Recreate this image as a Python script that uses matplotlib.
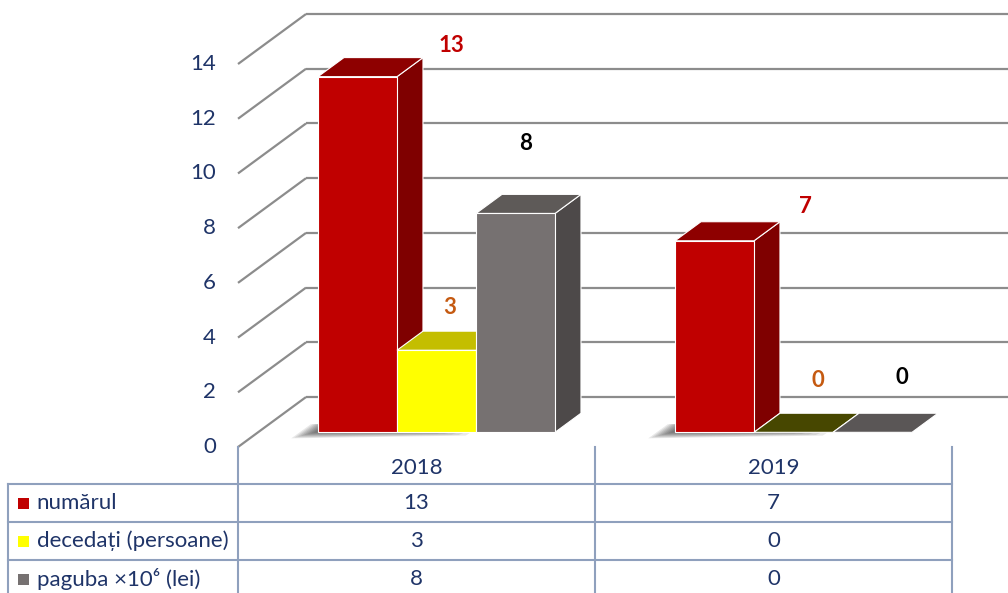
import matplotlib.pyplot as plt
import matplotlib.transforms as mtransforms
from matplotlib.patches import Polygon

# data
years = ['2018', '2019']
series = ['numărul', 'decedați (persoane)', 'paguba ×10⁶ (lei)']
numarul = [13, 7]
decedati = [3, 0]
paguba = [8, 0]
yticks = [0, 2, 4, 6, 8, 10, 12, 14]

values = [numarul, decedati, paguba]

# styles
fonts = ['Lato', 'DejaVu Sans']
navy = '#1F3468'
front_cols = ['#C00000', '#FFFF00', '#767171']
side_cols = ['#7F0000', '#A8A800', '#4D4949']
top_cols = ['#8E0000', '#C4BE00', '#5E5A58']
flat_cols = ['#8E0000', '#474700', '#5A5656']
label_cols = ['#C00000', '#C55A11', '#000000']
# label nudges (x, y) in data units from the top centre of each bar front
label_nudge = [[(0.263, 1.14), (0.255, 1.26)],
               [(0.038, 1.57), (0.067, 1.90)],
               [(0.028, 2.56), (0.081, 2.01)]]

DX, DY = 0.1905, 1.827   # full floor depth
f0, f1 = 0.294, 0.676    # bar depth slice
w = 0.2213
x_wall = -0.5
fs = 16

fig = plt.figure(figsize=(10.08, 5.93), dpi=100)
ax = fig.add_axes([0, 0, 1, 1])
ax.set_xlim(-1.1667, 1.6569)
ax.set_ylim(-5.336, 16.34)
ax.axis('off')

# gridlines on side + back wall
for v in yticks:
    ax.plot([x_wall, x_wall + DX], [v, v + DY], color='#8C8C8C', lw=1.6, zorder=1,
            solid_capstyle='butt')
    ax.plot([x_wall + DX, 1.7], [v + DY, v + DY], color='#8C8C8C', lw=1.6, zorder=1,
            solid_capstyle='butt')
    ax.text(x_wall - 0.062, v, str(v), ha='right', va='center', fontsize=fs,
            color=navy, family=fonts)

shift, base = f0 * DX, f0 * DY
bdx, bdy = (f1 - f0) * DX, (f1 - f0) * DY

# soft shadow at the front-left of each group
for i in range(len(years)):
    xs = i - 1.5 * w + shift
    xe = xs + 3 * w
    for k in range(8):
        ax.add_patch(Polygon([(xs - 0.075 + 0.009 * k, base - 0.22 + 0.03 * k),
                              (xe - 0.25 - 0.02 * k, base - 0.12 + 0.02 * k),
                              (xe - 0.2, base + 0.3),
                              (xs - 0.02 + 0.006 * k, base + 0.3)],
                             closed=True, color='black', alpha=0.085, lw=0, zorder=2))

z = 3
for i in range(len(years)):
    for j, vals in enumerate(values):
        h = vals[i]
        x0 = i - 1.5 * w + j * w + shift
        x1 = x0 + w
        top = base + h
        if h > 0:
            ax.add_patch(Polygon([(x1, base), (x1 + bdx, base + bdy), (x1 + bdx, top + bdy), (x1, top)],
                                 closed=True, fc=side_cols[j], ec='white', lw=0.8, zorder=z))
            ax.add_patch(Polygon([(x0, top), (x1, top), (x1 + bdx, top + bdy), (x0 + bdx, top + bdy)],
                                 closed=True, fc=top_cols[j], ec='white', lw=0.8, zorder=z))
            ax.add_patch(Polygon([(x0, base), (x1, base), (x1, top), (x0, top)],
                                 closed=True, fc=front_cols[j], ec='white', lw=0.8, zorder=z))
        else:
            ax.add_patch(Polygon([(x0, top), (x1, top), (x1 + bdx, top + bdy), (x0 + bdx, top + bdy)],
                                 closed=True, fc=flat_cols[j], ec='white', lw=0.8, zorder=z))
        z += 1
        nx, ny = label_nudge[j][i]
        ax.text((x0 + x1) / 2 + nx, top + ny, str(h), ha='center', va='center',
                fontsize=16, fontweight='bold', color=label_cols[j], family=fonts, zorder=20)

# data table below the chart
tr = mtransforms.blended_transform_factory(ax.transData, fig.transFigure)
def fy(py):
    return 1 - py / 593.0

line_col = '#8FA0BD'
x_left = -1.144
for xc in [-0.5, 0.5, 1.5]:
    ax.plot([xc, xc], [fy(447), fy(593)], color=line_col, lw=1.5, transform=tr, clip_on=False)
ax.plot([x_left, x_left], [fy(484), fy(593)], color=line_col, lw=1.5, transform=tr, clip_on=False)
for py in [484, 522, 560]:
    ax.plot([x_left, 1.5], [fy(py), fy(py)], color=line_col, lw=1.5, transform=tr, clip_on=False)

for i, yr in enumerate(years):
    ax.text(i, fy(468), yr, ha='center', va='center', fontsize=fs, color=navy,
            family=fonts, transform=tr)

row_y = [503, 541, 579]
for j, name in enumerate(series):
    ax.add_patch(Polygon([(x_left + 0.028, fy(row_y[j] - 5.5)), (x_left + 0.059, fy(row_y[j] - 5.5)),
                          (x_left + 0.059, fy(row_y[j] + 5.5)), (x_left + 0.028, fy(row_y[j] + 5.5))],
                         closed=True, fc=front_cols[j], lw=0, transform=tr))
    ax.text(x_left + 0.08, fy(row_y[j]), name, ha='left', va='center', fontsize=fs,
            color=navy, family=fonts, transform=tr)
    for i in range(len(years)):
        ax.text(i, fy(row_y[j]), str(values[j][i]), ha='center', va='center', fontsize=fs,
                color=navy, family=fonts, transform=tr)

fig.savefig('out.png', dpi=100)
